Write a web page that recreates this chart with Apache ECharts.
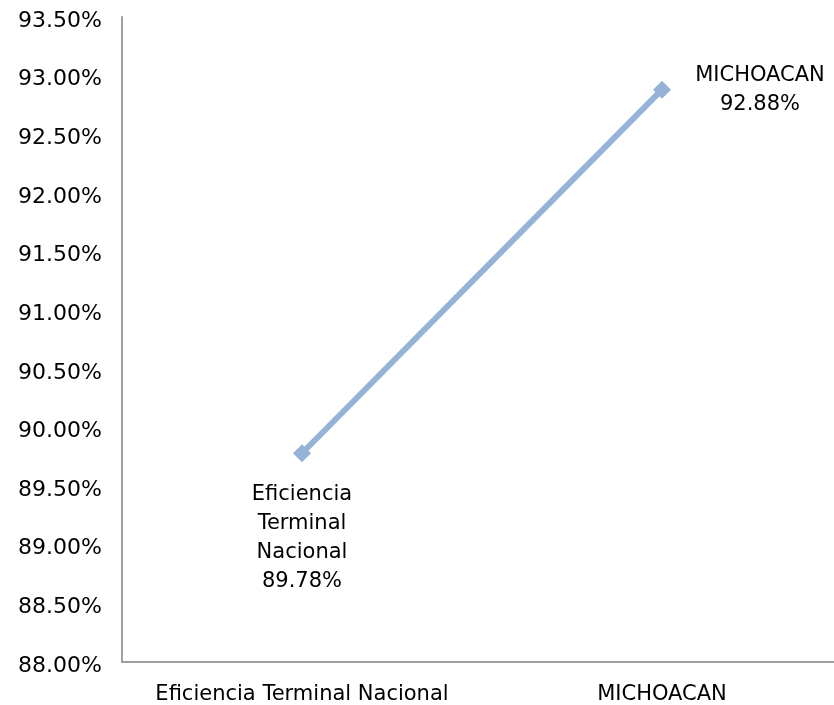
<!DOCTYPE html>
<html>
<head>
<meta charset="utf-8">
<script src="https://cdn.jsdelivr.net/npm/echarts@6/dist/echarts.min.js"></script>
<style>html,body{margin:0;padding:0;background:#fff;overflow:hidden}#c{width:842px;height:705px}</style>
</head>
<body>
<div id="c"></div>
<script>
var categories = ['Eficiencia Terminal Nacional', 'MICHOACAN'];
var pointLabels = ['Eficiencia\nTerminal\nNacional', 'MICHOACAN'];
var values = [89.78, 92.88];
var yMin = 88.0, yMax = 93.5, yStep = 0.5;

var FONT = 'DejaVu Sans';
var chart = echarts.init(document.getElementById('c'));
chart.setOption({
  animation: false,
  grid: {left: 122, right: 0, top: 17, bottom: 43, containLabel: false},
  xAxis: {
    type: 'category', data: categories, boundaryGap: true,
    axisLine: {lineStyle: {color: '#a0a0a0', width: 2}},
    axisTick: {show: false},
    axisLabel: {color: '#000', fontFamily: FONT, fontSize: 21, margin: 22, interval: 0}
  },
  yAxis: {
    type: 'value', min: yMin, max: yMax, interval: yStep,
    axisLine: {show: true, lineStyle: {color: '#a0a0a0', width: 2}},
    axisTick: {show: false},
    splitLine: {show: false},
    axisLabel: {color: '#000', fontFamily: FONT, fontSize: 22, margin: 20,
      formatter: function (v) { return '{a|' + v.toFixed(2) + '%}'; },
      rich: {a: {color: '#000', fontFamily: FONT, fontSize: 22, padding: [8, 0, 0, 0]}}}
  },
  series: [{
    type: 'line', data: values.map(function (v, i) {
      var lbl = i === 0
        ? {position: 'bottom', distance: 18, align: 'center'}
        : {position: 'right', distance: 89, align: 'center'};
      return {value: v, label: lbl};
    }),
    symbol: 'diamond', symbolSize: 18,
    lineStyle: {color: '#95B3D7', width: 6},
    itemStyle: {color: '#95B3D7'},
    label: {
      show: true, color: '#000', fontFamily: FONT, fontSize: 21, lineHeight: 29, align: 'center',
      formatter: function (p) { return pointLabels[p.dataIndex] + '\n' + p.value.toFixed(2) + '%'; }
    }
  }]
});
</script>
</body>
</html>
